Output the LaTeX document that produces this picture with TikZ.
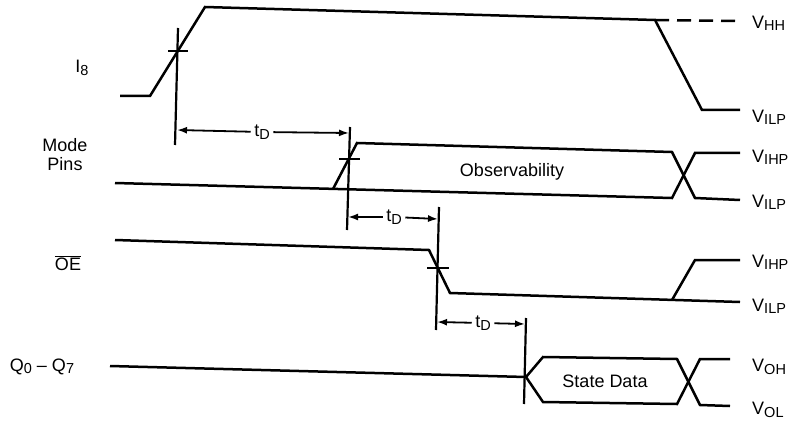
\documentclass[tikz,border=0pt]{standalone}
\usepackage{fontspec}
\setmainfont{Liberation Sans}
\usepackage{tikz}
\usetikzlibrary{arrows.meta, positioning}
\newcommand{\dn}[1]{\raisebox{-0.25ex}{\fontsize{14.5}{14.5}\selectfont #1}}

\begin{document}
\begin{tikzpicture}[x=1pt, y=-1pt,
        font=\fontsize{18}{21}\selectfont,
        wave/.style={line width=2.5pt, line join=miter},
        refline/.style={line width=2.2pt},
        tip/.style={line width=1.8pt, -{Latex[length=10pt, width=7pt]}},
        lvl/.style={anchor=west, inner sep=0pt}]
        \useasboundingbox (0,0) rectangle (791,422);

        % Signal names
        \node (nI8) at (82,68) {I\dn{8}};
        \node[align=center, inner sep=0pt] (nMode) at (65,155) {Mode\\[-2pt]Pins};
        \node (nOE) at (68,263) {$\overline{\mbox{OE}}$};
        \node (nQ) at (42,367) {Q\dn{0} -- Q\dn{7}};

        % I8
        \draw[wave] (120,96) -- (150,96) -- (205,7) -- (655,20) -- (702,110) -- (740,110);
        \draw[wave, dash pattern=on 14pt off 8pt] (655,20) -- (742,21);
        \node[lvl] (vHH) at (752,23) {V\dn{HH}};
        \node[lvl] (vILP1) at (752,117) {V\dn{ILP}};

        % Mode pins
        \draw[wave] (115,183) -- (672,198) -- (695,153) -- (740,153);
        \draw[wave] (333,189) -- (357,143) -- (672,152) -- (695,198) -- (740,200);
        \node (obs) at (512,172) {Observability};
        \node[lvl] (vIHP1) at (752,157) {V\dn{IHP}};
        \node[lvl] (vILP2) at (752,202) {V\dn{ILP}};

        % OE
        \draw[wave] (115,240) -- (429,250) -- (450,293) -- (740,302);
        \draw[wave] (672,300) -- (695,260) -- (740,260);
        \node[lvl] (vIHP2) at (752,262) {V\dn{IHP}};
        \node[lvl] (vILP3) at (752,306) {V\dn{ILP}};

        % Q0 - Q7
        \draw[wave] (110,366) -- (526,377) -- (543,357) -- (677,359) -- (700,405) -- (730,406);
        \draw[wave] (526,377) -- (543,402) -- (677,404) -- (700,359) -- (730,359);
        \node (state) at (605,381) {State Data};
        \node[lvl] (vOH) at (752,367) {V\dn{OH}};
        \node[lvl] (vOL) at (752,410) {V\dn{OL}};

        % Reference lines and crossing marks
        \draw[refline] (178,28) -- (175,145);
        \draw[refline] (168,51) -- (188,51);
        \draw[refline] (350,127) -- (347,230);
        \draw[refline] (339,159) -- (360,159);
        \draw[refline] (439,207) -- (436,330);
        \draw[refline] (427,268) -- (449,268);
        \draw[refline] (526,318) -- (524,404);

        % Delays
        \coordinate (a1) at (177,130);
        \coordinate (b1) at (349,133);
        \coordinate (a2) at (348,217);
        \coordinate (b2) at (438,219);
        \coordinate (a3) at (437,322);
        \coordinate (b3) at (525,324);
        \node (td1) at (262,132) {t\dn{D}};
        \node (td2) at (394,217) {t\dn{D}};
        \node (td3) at (483,323) {t\dn{D}};
        \draw[tip] (td1) -- (a1);
        \draw[tip] (td1) -- (b1);
        \draw[tip] (td2) -- (a2);
        \draw[tip] (td2) -- (b2);
        \draw[tip] (td3) -- (a3);
        \draw[tip] (td3) -- (b3);
    \end{tikzpicture}
\end{document}
